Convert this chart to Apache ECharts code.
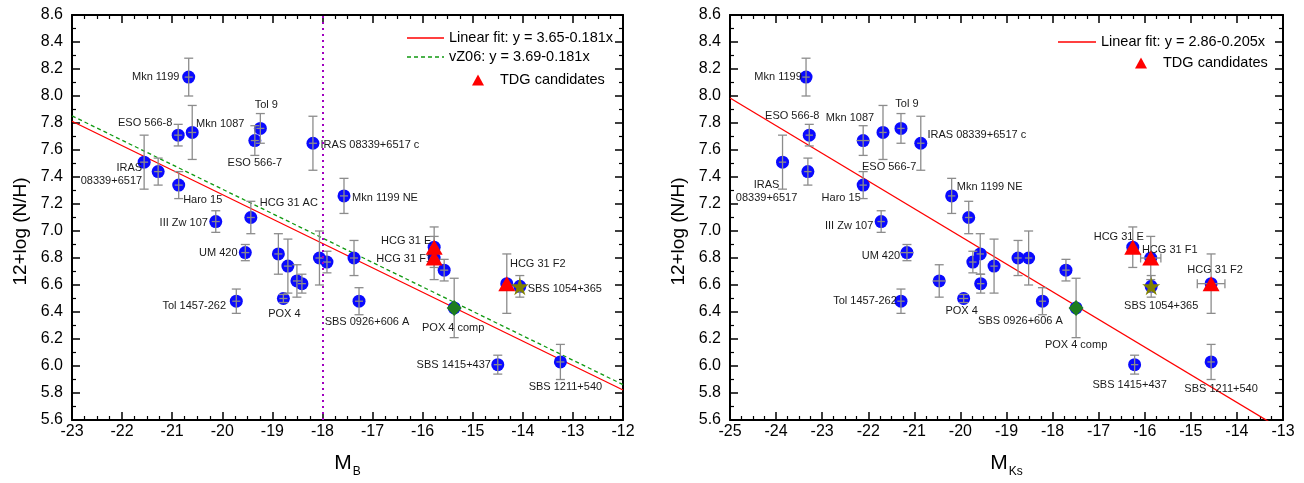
<!DOCTYPE html>
<html><head><meta charset="utf-8">
<script src="https://cdn.jsdelivr.net/npm/echarts/dist/echarts.min.js"></script>
<style>html,body{margin:0;padding:0;background:#fff}#c{width:1304px;height:483px}</style>
</head><body><div id="c"></div>
<script>
// ---------------- data ----------------
const names = ['Mkn 1199','ESO 566-8','Mkn 1087','Tol 9','ESO 566-7','IRAS 08339+6517 c','IRAS 08339+6517','',
  'Haro 15','Mkn 1199 NE','HCG 31 AC','III Zw 107','UM 420','','','','','Tol 1457-262','POX 4','','','',
  'SBS 0926+606 A','','POX 4 comp','HCG 31 E','HCG 31 F1','SBS 1054+365','HCG 31 F2','SBS 1415+437','SBS 1211+540'];
const logNH = [8.14,7.71,7.73,7.76,7.67,7.65,7.51,7.44,7.34,7.26,7.10,7.07,6.84,6.83,6.74,6.63,6.61,6.48,6.50,6.80,6.77,6.80,
  6.48,6.71,6.43,6.88,6.80,6.59,6.61,6.01,6.03];
const logNHErr = [0.14,0.08,0.20,0.11,0.11,0.20,0.20,0.10,0.10,0.13,0.12,0.08,0.06,0.15,0.20,0.12,0.07,0.09,0.03,0.20,0.08,0.13,
  0.10,0.08,0.22,0.15,0.16,0.08,0.22,0.07,0.13];
const MB = [-20.67,-20.88,-20.60,-19.24,-19.35,-18.19,-21.56,-21.28,-20.87,-17.57,-19.43,-20.13,-19.54,-18.88,-18.69,-18.51,-18.41,
  -19.72,-18.78,-18.06,-17.91,-17.37,-17.27,-15.57,-15.37,-15.77,-15.77,-14.06,-14.32,-14.50,-13.25];
const MBErr = [0.08,0.08,0.08,0.08,0.08,0.08,0.08,0.08,0.08,0.08,0.08,0.08,0.08,0.08,0.08,0.08,0.08,0.08,0.08,0.08,0.08,0.08,
  0.08,0.08,0.08,0.08,0.08,0.08,0.08,0.08,0.08];
const MKs = [-23.35,-23.28,-21.68,-21.29,-22.11,-20.86,-23.86,-23.31,-22.11,-20.19,-19.82,-21.72,-21.16,-19.57,-19.27,-20.46,-19.56,
  -21.29,-19.93,-18.52,-19.73,-18.75,-18.22,-17.71,-17.49,-16.26,-15.87,-15.86,-14.56,-16.22,-14.56];
const MKsErr = [0.08,0.08,0.08,0.08,0.14,0.08,0.08,0.08,0.08,0.08,0.08,0.08,0.14,0.08,0.08,0.14,0.08,0.08,0.10,0.08,0.08,0.08,
  0.08,0.08,0.08,0.08,0.22,0.08,0.30,0.08,0.08];
const marker = ['c','c','c','c','c','c','c','c','c','c','c','c','c','c','c','c','c','c','c','c','c','c',
  'c','c','diamond','tdg','tdg','star','tdg','c','c'];
const fitB = {a: 3.65, b: -0.181, label: 'Linear fit: y = 3.65-0.181x'};
const fitVZ06 = {a: 3.69, b: -0.181, label: 'vZ06: y = 3.69-0.181x'};
const fitKs = {a: 2.86, b: -0.205, label: 'Linear fit: y = 2.86-0.205x'};
const dwarfLimitMB = -18;
const xRangeB = [-23, -12];
const xRangeKs = [-25, -13];
const yRange = [5.6, 8.6];

// ---------------- label placement (pixels, separate from data) ----------------
const labelPosB = [[-33,0],[-33,-12],[28,-8],[6,-23],[0,22],[57,2],[-2,12.5,'right'],null,[24,15],[41,2],[38,-15],[-32,1],[-27,0],
  null,null,null,null,[-42,5],[1,15],null,null,null,[8,21],null,[-1,20],[-28,-6],[-30,1],[45,3],[31,-20],[-44,0],[5,25]];
const labelPosKs = [[-28,0],[-17,-19],[-33,-14],[6,-24],[26,26],[56,-8],[-16,29,'center'],null,[-22,13],[38,-9],null,[-32,4],[-26,3],
  null,null,null,null,[-36,0],[-2,12],null,null,null,[-22,20],null,[0,37],[-14,-10],[19,-8],[10,20],[4,-14],[-5,20],[10,27]];

const FONT = '"Liberation Sans", Arial, Helvetica, sans-serif';
const labelText = names.map(n => n === 'IRAS 08339+6517' ? 'IRAS\n08339+6517' : n);
const STAR = 'path://M50,0 L61.2,34.5 L97.6,34.5 L68.2,55.9 L79.4,90.5 L50,69.1 L20.6,90.5 L31.8,55.9 L2.4,34.5 L38.8,34.5 Z';
// legend icons (pure drawing shapes)
const ICON_SOLID = 'path://M0,0 H37 V1.4 H0 Z';
let dash = '';
for (let x = 0; x < 37; x += 7) dash += 'M' + x + ',0 h' + Math.min(4, 37 - x) + ' v1.4 h-' + Math.min(4, 37 - x) + ' Z ';
const ICON_DASH = 'path://' + dash;

function axisBase(extra) {
  return Object.assign({
    type: 'value',
    axisLine: {show: true, onZero: false, lineStyle: {color: '#000', width: 2}},
    axisTick: {show: true, inside: true, length: 8, lineStyle: {color: '#000', width: 1.5}},
    minorTick: {show: true, length: 4, lineStyle: {color: '#000', width: 1.2}},
    splitLine: {show: false},
    minorSplitLine: {show: false}
  }, extra);
}
function xAxes(grid, range, nameMain, nameSub) {
  const common = {gridIndex: grid, min: range[0], max: range[1], interval: 1};
  return [
    axisBase(Object.assign({}, common, {
      position: 'bottom',
      minorTick: {show: true, splitNumber: 4, length: 4, lineStyle: {color: '#000', width: 1.2}},
      axisLabel: {fontSize: 16, margin: 4, color: '#000', fontFamily: FONT},
      name: '{m|' + nameMain + '}{s|' + nameSub + '}', nameLocation: 'middle', nameGap: 31,
      nameTextStyle: {rich: {
        m: {fontSize: 21, fontFamily: FONT, color: '#000', lineHeight: 24},
        s: {fontSize: 12, fontFamily: FONT, color: '#000', lineHeight: 12, padding: [18, 0, 0, 1]}
      }}
    })),
    axisBase(Object.assign({}, common, {
      position: 'top',
      minorTick: {show: true, splitNumber: 4, length: 4, lineStyle: {color: '#000', width: 1.2}},
      axisLabel: {show: false}
    }))
  ];
}
function yAxes(grid) {
  const common = {gridIndex: grid, min: yRange[0], max: yRange[1], interval: 0.2};
  return [
    axisBase(Object.assign({}, common, {
      position: 'left',
      minorTick: {show: true, splitNumber: 2, length: 4, lineStyle: {color: '#000', width: 1.2}},
      axisLabel: {fontSize: 16, margin: 9, color: '#000', fontFamily: FONT, formatter: v => v.toFixed(1)},
      name: '12+log (N/H)', nameLocation: 'middle', nameGap: 42, nameRotate: 90,
      nameTextStyle: {fontSize: 19, fontFamily: FONT, color: '#000', padding: [0, 28, 0, 0]}
    })),
    axisBase(Object.assign({}, common, {
      position: 'right',
      minorTick: {show: true, splitNumber: 2, length: 4, lineStyle: {color: '#000', width: 1.2}},
      axisLabel: {show: false}
    }))
  ];
}

function errorBars(xs, xerrs, xi, yi) {
  return {
    type: 'custom', xAxisIndex: xi, yAxisIndex: yi, z: 3, silent: true,
    data: xs.map((x, i) => [x, logNH[i], logNHErr[i], xerrs[i]]),
    renderItem: function (params, api) {
      const x = api.value(0), y = api.value(1), ye = api.value(2), xe = api.value(3);
      const c = api.coord([x, y]);
      const t = api.coord([x, y + ye]), b = api.coord([x, y - ye]);
      const l = api.coord([x - xe, y]), r = api.coord([x + xe, y]);
      const cap = 4.5;
      const st = {stroke: '#8c8c8c', lineWidth: 1.3, fill: null};
      const ch = [
        {type: 'line', shape: {x1: c[0], y1: t[1], x2: c[0], y2: b[1]}, style: st},
        {type: 'line', shape: {x1: c[0] - cap, y1: t[1], x2: c[0] + cap, y2: t[1]}, style: st},
        {type: 'line', shape: {x1: c[0] - cap, y1: b[1], x2: c[0] + cap, y2: b[1]}, style: st},
        {type: 'line', shape: {x1: l[0], y1: c[1], x2: r[0], y2: c[1]}, style: st}
      ];
      if (r[0] - c[0] > 7) {
        ch.push({type: 'line', shape: {x1: l[0], y1: c[1] - cap, x2: l[0], y2: c[1] + cap}, style: st});
        ch.push({type: 'line', shape: {x1: r[0], y1: c[1] - cap, x2: r[0], y2: c[1] + cap}, style: st});
      }
      return {type: 'group', children: ch};
    }
  };
}

function panelSeries(xs, xerrs, xi, yi, labelPos, fits, xr) {
  const s = [];
  fits.forEach(f => {
    s.push({
      type: 'line', name: f.label, xAxisIndex: xi, yAxisIndex: yi, z: 1, symbol: 'none', silent: true,
      lineStyle: f.style, itemStyle: {color: f.style.color},
      data: [[xr[0], f.a + f.b * xr[0]], [xr[1], f.a + f.b * xr[1]]],
      markLine: f.markLine
    });
  });
  s.push({
    type: 'scatter', name: 'points', xAxisIndex: xi, yAxisIndex: yi, z: 2, symbol: 'circle', symbolSize: 13,
    itemStyle: {color: '#0a0aff', opacity: 1},
    data: xs.map((x, i) => {
      const p = labelPos[i];
      const item = {value: [x, logNH[i]]};
      if (p) {
        item.label = {show: true, formatter: labelText[i], position: 'inside', offset: [p[0], p[1]],
          align: p[2] || 'center', verticalAlign: 'middle', fontSize: 11, lineHeight: 13,
          fontFamily: FONT, color: '#1a1a1a'};
      }
      return item;
    })
  });
  s.push(errorBars(xs, xerrs, xi, yi));
  s.push({
    type: 'scatter', name: 'TDG candidates', xAxisIndex: xi, yAxisIndex: yi, z: 4, symbol: 'triangle',
    symbolSize: [17, 15], itemStyle: {color: '#ff0000', opacity: 1},
    data: xs.map((x, i) => marker[i] === 'tdg' ? [x, logNH[i]] : null).filter(d => d)
  });
  s.push({
    type: 'scatter', name: 'comp', xAxisIndex: xi, yAxisIndex: yi, z: 4, symbol: 'diamond',
    symbolSize: [15, 16], itemStyle: {color: '#1e7d1e', opacity: 1},
    data: xs.map((x, i) => marker[i] === 'diamond' ? [x, logNH[i]] : null).filter(d => d)
  });
  s.push({
    type: 'scatter', name: 'star', xAxisIndex: xi, yAxisIndex: yi, z: 4, symbol: STAR,
    symbolSize: 18, itemStyle: {color: '#808000', opacity: 1},
    data: xs.map((x, i) => marker[i] === 'star' ? [x, logNH[i]] : null).filter(d => d)
  });
  return s;
}

const redLine = {color: '#ff0000', width: 1.3, type: 'solid'};
const greenLine = {color: '#119911', width: 1.3, type: [4, 3]};

const seriesB = panelSeries(MB, MBErr, 0, 0, labelPosB, [
  Object.assign({}, fitB, {style: redLine, markLine: {
    symbol: 'none', silent: true, label: {show: false},
    lineStyle: {color: '#a000c0', width: 2, type: [2, 4]},
    data: [{xAxis: dwarfLimitMB}]
  }}),
  Object.assign({}, fitVZ06, {style: greenLine})
], xRangeB);
const seriesKs = panelSeries(MKs, MKsErr, 2, 2, labelPosKs, [
  Object.assign({}, fitKs, {style: redLine})
], xRangeKs);

const legendText = {fontSize: 14.5, fontFamily: FONT, color: '#000', lineHeight: 16};
const tdgText = Object.assign({}, legendText, {padding: [0, 0, 0, 11]});
const chart = echarts.init(document.getElementById('c'), null, {renderer: 'canvas'});
chart.setOption({
  animation: false,
  backgroundColor: '#fff',
  grid: [
    {left: 72, top: 15, width: 551, height: 407},
    {left: 730, top: 15, width: 553, height: 407}
  ],
  xAxis: [].concat(xAxes(0, xRangeB, 'M', 'B'), xAxes(1, xRangeKs, 'M', 'Ks')),
  yAxis: [].concat(yAxes(0), yAxes(1)),
  legend: [
    {orient: 'vertical', left: 407, top: 30, itemWidth: 37, itemHeight: 10, itemGap: 3, padding: 0,
      textStyle: legendText, selectedMode: false,
      data: [{name: fitB.label, icon: ICON_SOLID}, {name: fitVZ06.label, icon: ICON_DASH}]},
    {orient: 'vertical', left: 472, top: 72, itemWidth: 12, itemHeight: 11, padding: 0,
      textStyle: tdgText, selectedMode: false, data: ['TDG candidates']},
    {orient: 'vertical', left: 1058, top: 34, itemWidth: 38, itemHeight: 10, padding: 0,
      textStyle: legendText, selectedMode: false, data: [{name: fitKs.label, icon: ICON_SOLID}]},
    {orient: 'vertical', left: 1135, top: 55, itemWidth: 12, itemHeight: 11, padding: 0,
      textStyle: tdgText, selectedMode: false, data: ['TDG candidates']}
  ],
  series: [].concat(seriesB, seriesKs)
});
</script>
</body></html>
